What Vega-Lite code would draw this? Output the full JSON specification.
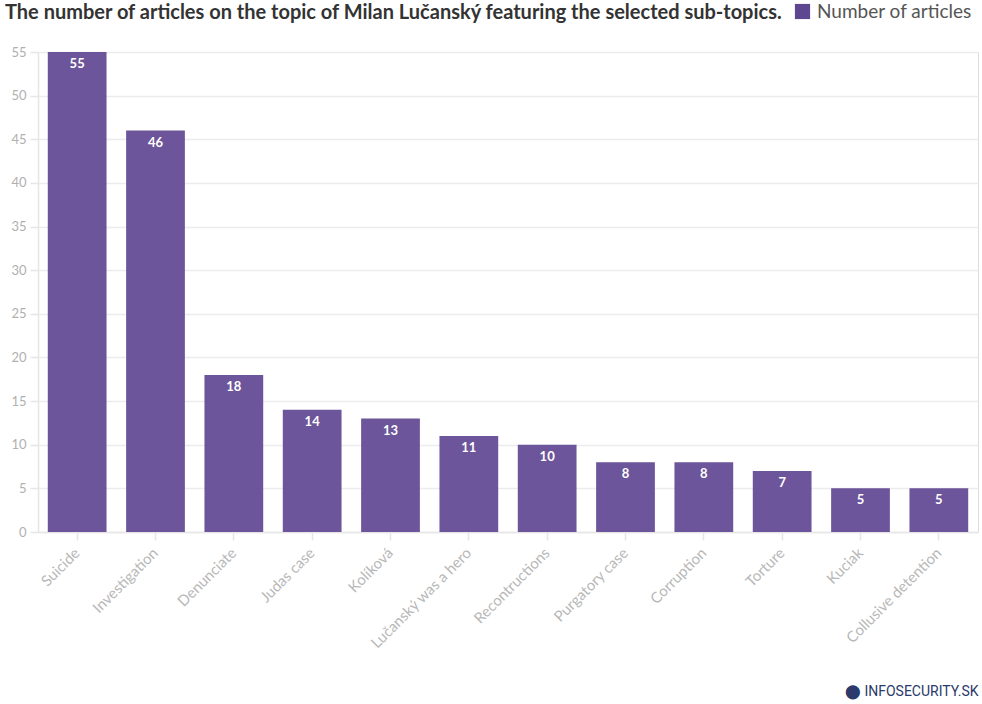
{
  "$schema": "https://vega.github.io/schema/vega-lite/v6.json",
  "autosize": {"type": "none"},
  "padding": {"left": 38, "top": 52, "right": 4, "bottom": 172},
  "width": 940,
  "height": 480,
  "background": "white",
  "title": {
    "text": "The number of articles on the topic of Milan Lučanský featuring the selected sub-topics.",
    "anchor": "start",
    "frame": "group",
    "dx": -33,
    "offset": -21,
    "font": "Lato",
    "fontSize": 20,
    "fontWeight": "bold",
    "color": "#333333"
  },
  "data": {
    "values": [
      {"topic": "Suicide", "articles": 55},
      {"topic": "Investigation", "articles": 46},
      {"topic": "Denunciate", "articles": 18},
      {"topic": "Judas case", "articles": 14},
      {"topic": "Kolíková", "articles": 13},
      {"topic": "Lučanský was a hero", "articles": 11},
      {"topic": "Recontructions", "articles": 10},
      {"topic": "Purgatory case", "articles": 8},
      {"topic": "Corruption", "articles": 8},
      {"topic": "Torture", "articles": 7},
      {"topic": "Kuciak", "articles": 5},
      {"topic": "Collusive detention", "articles": 5}
    ]
  },
  "encoding": {
    "x": {
      "field": "topic",
      "type": "nominal",
      "sort": null,
      "scale": {"paddingInner": 0.25, "paddingOuter": 0.125},
      "axis": {
        "title": "⬤ INFOSECURITY.SK",
        "titleAnchor": "end",
        "titleAlign": "right",
        "titleFont": "Roboto",
        "titleFontSize": 14,
        "titleFontWeight": "normal",
        "titleColor": "#2b3a6b",
        "titlePadding": 33,
        "labelAngle": -45,
        "labelAlign": "right",
        "labelBaseline": "middle",
        "labelPadding": 10,
        "labelFont": "Lato",
        "labelFontSize": 15,
        "labelColor": "#b8b8b8",
        "domainColor": "#e6e6e6",
        "domainWidth": 1.5,
        "tickColor": "#e6e6e6",
        "tickWidth": 1.5,
        "tickSize": 8,
        "grid": false
      }
    },
    "y": {
      "field": "articles",
      "type": "quantitative",
      "scale": {"domain": [0, 55], "nice": false},
      "axis": {
        "title": null,
        "values": [0, 5, 10, 15, 20, 25, 30, 35, 40, 45, 50, 55],
        "labelFont": "Lato",
        "labelFontSize": 13,
        "labelColor": "#b0b0b0",
        "labelPadding": 4,
        "domainColor": "#e6e6e6",
        "domainWidth": 1.5,
        "tickColor": "#e6e6e6",
        "tickWidth": 1.5,
        "tickSize": 8,
        "gridColor": "#ececec",
        "gridWidth": 1.5
      }
    }
  },
  "layer": [
    {
      "mark": {"type": "bar", "opacity": 0.92},
      "encoding": {
        "color": {
          "datum": "Number of articles",
          "type": "nominal",
          "scale": {"range": ["#5f4691"]},
          "legend": {
            "title": null,
            "orient": "none",
            "legendX": 755,
            "legendY": -50,
            "symbolType": "square",
            "symbolSize": 230,
            "symbolOpacity": 1,
            "labelFont": "Lato",
            "labelFontSize": 19,
            "labelColor": "#555555",
            "labelOffset": 5
          }
        }
      }
    },
    {
      "mark": {
        "type": "text",
        "baseline": "middle",
        "dy": 12,
        "font": "Lato",
        "fontSize": 13,
        "fontWeight": "bold",
        "color": "white"
      },
      "encoding": {
        "text": {"field": "articles", "type": "quantitative"}
      }
    }
  ]
}
